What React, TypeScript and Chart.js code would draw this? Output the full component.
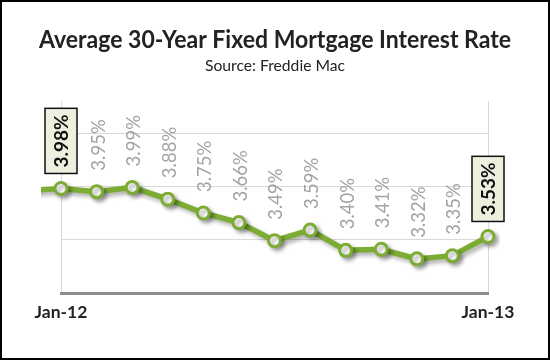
import React, { useEffect, useRef } from 'react';
import { Chart, registerables } from 'chart.js';

Chart.register(...registerables);

// ---- data ----
const months = ['Jan-12', 'Feb-12', 'Mar-12', 'Apr-12', 'May-12', 'Jun-12', 'Jul-12', 'Aug-12', 'Sep-12', 'Oct-12', 'Nov-12', 'Dec-12', 'Jan-13'];
const rates = [3.98, 3.95, 3.99, 3.88, 3.75, 3.66, 3.49, 3.59, 3.40, 3.41, 3.32, 3.35, 3.53];
const priorMonth = 'Dec-11';
const priorRate = 3.96;
const axisLabelIndexes = [0, 12];
const gridValues = [3.0, 3.5, 4.0, 4.5];
const yMin = 3.0;
const yMax = 4.8;

const titleText = 'Average 30-Year Fixed Mortgage Interest Rate';
const subtitleText = 'Source: Freddie Mac';

const GREEN = '#7cac33';
const FONT = 'Lato';

const shadowPlugin = {
  id: 'lineShadow',
  beforeDatasetDraw(chart: any) {
    const c = chart.ctx;
    c.save();
    c.shadowColor = 'rgba(0,0,0,0.32)';
    c.shadowBlur = 4;
    c.shadowOffsetX = 3;
    c.shadowOffsetY = 3;
  },
  afterDatasetDraw(chart: any) {
    chart.ctx.restore();
  },
};

const labelPlugin = {
  id: 'rateLabels',
  afterDatasetsDraw(chart: any) {
    const ctx = chart.ctx;
    const meta = chart.getDatasetMeta(0);
    meta.data.forEach((pt: any, idx: number) => {
      if (idx === 0) return; // prior month, off-scale
      const i = idx - 1;
      const text = rates[i].toFixed(2) + '%';
      const highlight = i === 0 || i === rates.length - 1;
      ctx.save();
      ctx.translate(pt.x, pt.y);
      ctx.rotate(-Math.PI / 2);
      ctx.textBaseline = 'middle';
      if (highlight) {
        ctx.font = `bold 19px ${FONT}`;
        const w = ctx.measureText(text).width;
        const gap = 15;
        const padL = 6;
        const len = w + padL * 2;
        const thick = 32;
        ctx.fillStyle = '#ebf1de';
        ctx.fillRect(gap, -thick / 2, len, thick);
        ctx.lineWidth = 1.5;
        ctx.strokeStyle = '#111';
        ctx.strokeRect(gap, -thick / 2, len, thick);
        ctx.fillStyle = '#111';
        ctx.textAlign = 'left';
        ctx.fillText(text, gap + padL, 1);
      } else {
        ctx.font = `18.5px ${FONT}`;
        ctx.fillStyle = '#a3a3a3';
        ctx.textAlign = 'left';
        ctx.fillText(text, 21, 2);
      }
      ctx.restore();
    });
  },
};

const textPlugin = {
  id: 'chartTexts',
  afterDraw(chart: any) {
    const ctx = chart.ctx;
    const cx = chart.width / 2;
    ctx.save();
    ctx.fillStyle = '#222';
    ctx.textAlign = 'center';
    ctx.textBaseline = 'alphabetic';
    ctx.font = `bold 24px ${FONT}`;
    ctx.fillText(titleText, cx, 46, 472);
    ctx.font = `16px ${FONT}`;
    ctx.fillText(subtitleText, cx, 69, 140);
    ctx.font = `bold 17.5px ${FONT}`;
    const xs = chart.scales.x;
    axisLabelIndexes.forEach((v) => {
      ctx.fillText(months[v], xs.getPixelForValue(v), chart.chartArea.bottom + 25);
    });
    ctx.restore();
  },
};

export default function App() {
  const ref = useRef<HTMLCanvasElement | null>(null);

  useEffect(() => {
    document.body.style.margin = '0';
    const canvas = ref.current;
    if (!canvas) return;
    const data = [
      { x: -1, y: priorRate, m: priorMonth },
      ...rates.map((r, i) => ({ x: i, y: r, m: months[i] })),
    ];
    const chart = new Chart(canvas, {
      type: 'line',
      data: {
        datasets: [
          {
            data,
            borderColor: GREEN,
            borderWidth: 5.5,
            tension: 0,
            pointRadius: (c: any) => (c.dataIndex === 0 ? 0 : 6),
            pointBorderWidth: 3,
            pointBackgroundColor: '#ffffff',
            pointBorderColor: GREEN,
            clip: { left: 20, top: false, right: 12, bottom: 12 } as any,
          },
        ],
      },
      options: {
        animation: false,
        responsive: false,
        devicePixelRatio: 1,
        layout: { padding: { left: 59, right: 60, top: 99, bottom: 65 } },
        plugins: {
          legend: { display: false },
          tooltip: { enabled: false },
          title: { display: false },
        },
        scales: {
          x: {
            type: 'linear',
            min: 0,
            max: months.length - 1,
            afterBuildTicks: (axis: any) => {
              axis.ticks = axisLabelIndexes.map((v) => ({ value: v }));
            },
            ticks: { display: false },
            grid: { color: '#d9d9d9', lineWidth: 1, drawTicks: false },
            border: { display: true, color: '#8c8c8c', width: 3 },
          },
          y: {
            min: yMin,
            max: yMax,
            afterBuildTicks: (axis: any) => {
              axis.ticks = gridValues.map((v) => ({ value: v }));
            },
            ticks: { display: false },
            grid: { color: '#d9d9d9', lineWidth: 1, drawTicks: false },
            border: { display: false },
          },
        },
      },
      plugins: [shadowPlugin, labelPlugin, textPlugin],
    } as any);
    return () => chart.destroy();
  }, []);

  return (
    <div
      style={{
        width: 550,
        height: 360,
        border: '2px solid #000',
        boxSizing: 'border-box',
        background: '#fff',
        overflow: 'hidden',
      }}
    >
      <canvas ref={ref} width={546} height={356} style={{ display: 'block' }} />
    </div>
  );
}
